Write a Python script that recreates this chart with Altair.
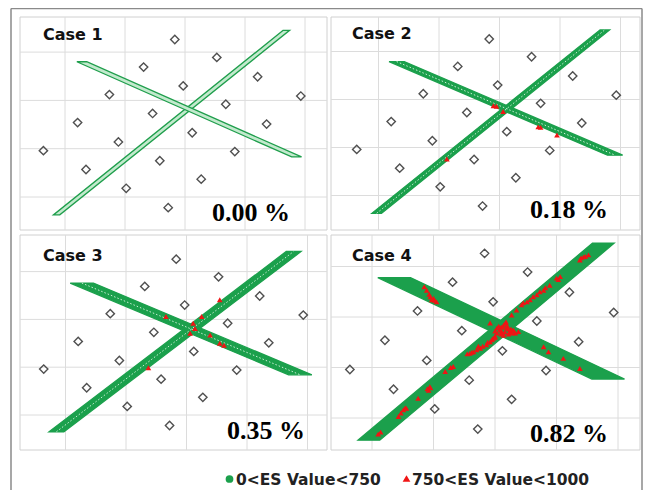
import altair as alt
import pandas as pd
import numpy as np

# ---------------- data (grid units of each panel) ----------------
case_names = ["Case 1", "Case 2", "Case 3", "Case 4"]
pct_labels = ["0.00 %", "0.18 %", "0.35 %", "0.82 %"]

# sensor positions (hollow diamonds), same in every case
diamond_gx = [1.83, 2.53, 1.31, 3.21, 1.97, 0.74, 3.93, 2.68, 1.46, 0.21,
              3.36, 2.12, 0.89, -0.36, 2.83, 1.58, 0.35, 2.27, 1.02, 1.72]
diamond_gy = [3.26, 2.89, 2.69, 2.49, 2.30, 2.12, 2.09, 1.92, 1.73, 1.54,
              1.51, 1.33, 1.14, 0.96, 0.94, 0.75, 0.57, 0.37, 0.18, -0.22]

# green bands (0<ES Value<750): two crossing paths per case
lineA_x0 = [-0.14, -0.03, -0.15, -0.05]
lineA_y0 = [-0.37, -0.37, -0.35, -0.44]
lineA_x1 = [3.69, 3.74, 3.77, 3.76]
lineA_y1 = [3.45, 3.45, 3.42, 3.46]
lineB_x0 = [0.28, 0.30, 0.27, 0.36]
lineB_y0 = [2.80, 2.79, 2.76, 2.78]
lineB_x1 = [3.86, 3.91, 3.88, 3.84]
lineB_y1 = [0.83, 0.84, 0.84, 0.77]

# red triangles (750<ES Value<1000)
red_gx = [
    [],
    [1.90, 1.95, 2.06, 2.64, 2.68, 2.95, 1.13],
    [2.55, 1.66, 2.25, 2.11, 2.14, 2.06, 2.39, 2.55, 2.62, 1.37],
    [3.44, 3.52, 3.38, 3.06, 3.00, 2.89, 2.79, 2.73, 2.68, 2.57, 2.52, 2.43, 2.35, 2.27,
     2.14, 2.19, 2.08, 2.24, 2.03, 2.33, 2.14, 1.97, 1.92, 1.86, 1.76, 1.65, 1.59, 2.03, 2.11, 2.38,
     2.17, 2.22, 2.10, 2.27, 2.00,
     2.12, 2.20, 2.26, 2.16, 2.30, 2.06, 2.22, 2.10, 2.28, 2.18, 2.00,
     1.80, 1.70, 1.62, 1.88, 1.95, 2.00, 1.55, 1.73,
     0.89, 1.00, 1.05, 0.97, 0.93, 0.95, 1.02, 0.85,
     2.79, 2.87, 3.11, 3.38, 1.92,
     3.47, 3.40, 2.62, 2.82, 2.46, 3.03,
     1.32, 1.19, 0.94, 0.92, 0.75, 0.56, 0.51, 0.43, 0.10,
     0.95, 0.90, 0.54, 0.47, 1.28, 0.14],
]
red_gy = [
    [],
    [1.87, 1.86, 1.75, 1.43, 1.42, 1.26, 0.76],
    [2.41, 2.06, 2.06, 1.92, 1.81, 1.71, 1.67, 1.50, 1.46, 0.99],
    [3.19, 3.23, 3.13, 2.80, 2.77, 2.63, 2.53, 2.50, 2.44, 2.34, 2.30, 2.24, 2.14, 2.04,
     1.84, 1.78, 1.74, 1.71, 1.68, 1.68, 1.64, 1.58, 1.51, 1.45, 1.38, 1.31, 1.28, 1.78, 1.71, 1.71,
     1.88, 1.76, 1.80, 1.74, 1.62,
     1.80, 1.82, 1.76, 1.70, 1.74, 1.82, 1.66, 1.66, 1.68, 1.90, 1.72,
     1.42, 1.35, 1.30, 1.50, 1.55, 1.60, 1.27, 1.42,
     2.53, 2.37, 2.30, 2.34, 2.45, 2.40, 2.33, 2.60,
     1.41, 1.31, 1.18, 0.98, 1.88,
     3.20, 3.17, 2.40, 2.58, 2.28, 2.74,
     1.02, 0.92, 0.62, 0.55, 0.39, 0.19, 0.16, 0.03, -0.32,
     0.60, 0.58, 0.20, 0.10, 1.00, -0.28],
]

grid_x_ticks = [0, 1, 2, 3, 4]
grid_y_ticks = [0, 1, 2, 3]

legend_labels = ["0<ES Value<750", "750<ES Value<1000"]

# ---------------- layout (page pixels) ----------------
panel_left = [20, 331, 20, 331]
panel_right = [327, 640, 327, 640]
panel_top = [17, 17, 235, 235]
panel_bottom = [230, 230, 450, 450]
grid_x0 = [65, 378.5, 65.5, 372]
grid_dx = [60, 60.5, 60.5, 61.5]
grid_y0 = [197, 195.5, 415, 418]
grid_dy = [48.3, 48, 47.8, 50.5]
band_px = [4.0, 6, 9, 14]
case_lab_x = [43, 352, 43, 352]
case_lab_y = [40, 38.5, 261, 261]
pct_right = [290, 608, 305, 608]
pct_base = [221, 218, 439, 442]

GREEN = "#1ba04c"
RED = "#f01414"


def px(i, gx):
    return grid_x0[i] + np.asarray(gx, dtype=float) * grid_dx[i]


def py(i, gy):
    return grid_y0[i] - np.asarray(gy, dtype=float) * grid_dy[i]


xs = alt.Scale(domain=[8, 643], nice=False, zero=False)
ys = alt.Scale(domain=[8, 490], nice=False, zero=False, reverse=True)


def X(f):
    return alt.X(f"{f}:Q", scale=xs, axis=None, stack=False)


def Y(f):
    return alt.Y(f"{f}:Q", scale=ys, axis=None, stack=False)


# panels
panels_df = pd.DataFrame({"x": panel_left, "x2": panel_right, "y": panel_top, "y2": panel_bottom})

grid_rows = []
for i in range(4):
    for g in grid_x_ticks:
        xv = float(px(i, g))
        grid_rows.append({"x": xv, "x2": xv, "y": panel_top[i], "y2": panel_bottom[i]})
    for g in grid_y_ticks:
        yv = float(py(i, g))
        grid_rows.append({"x": panel_left[i], "x2": panel_right[i], "y": yv, "y2": yv})
grid_df = pd.DataFrame(grid_rows)

dia_rows = []
for i in range(4):
    for a, b in zip(px(i, diamond_gx), py(i, diamond_gy)):
        dia_rows.append({"x": float(a), "y": float(b)})
dia_df = pd.DataFrame(dia_rows)

band_rows, center_rows = [], []
for i in range(4):
    for name, (ax0, ay0, ax1, ay1) in {
        "A": (lineA_x0[i], lineA_y0[i], lineA_x1[i], lineA_y1[i]),
        "B": (lineB_x0[i], lineB_y0[i], lineB_x1[i], lineB_y1[i]),
    }.items():
        X0, Y0 = float(px(i, ax0)), float(py(i, ay0))
        X1, Y1 = float(px(i, ax1)), float(py(i, ay1))
        length = np.hypot(X1 - X0, Y1 - Y0)
        w = band_px[i] * length / abs(Y1 - Y0)
        bid = f"{i}{name}"
        fill = "#c2eacd" if i == 0 else GREEN
        stroke = "#1f9e4c" if i == 0 else GREEN
        for Xc, Yc in [(X0, Y0), (X1, Y1)]:
            band_rows.append({"band": bid, "y": Yc, "xl": Xc - w / 2, "xr": Xc + w / 2,
                              "fill": fill, "stroke": stroke})
            if i in (1, 2):
                center_rows.append({"band": bid, "x": Xc, "y": Yc})
band_df = pd.DataFrame(band_rows)
center_df = pd.DataFrame(center_rows)

red_rows = []
for i in range(4):
    for a, b in zip(px(i, red_gx[i]), py(i, red_gy[i])):
        red_rows.append({"x": float(a), "y": float(b)})
red_df = pd.DataFrame(red_rows)

case_df = pd.DataFrame({"x": case_lab_x, "y": case_lab_y, "t": case_names})
pct_df = pd.DataFrame({"x": pct_right, "y": pct_base, "t": pct_labels})

frame_df = pd.DataFrame({"x": [11, 11, 642], "x2": [11, 642, 642],
                         "y": [8.6, 8.6, 8.6], "y2": [490, 8.6, 490]})

# ---------------- layers ----------------
panel_bg = alt.Chart(panels_df).mark_rect(fill="white", stroke="#d0d0d0", strokeWidth=1).encode(
    x=X("x"), x2="x2", y=Y("y"), y2="y2")

grid = alt.Chart(grid_df).mark_rule(color="#dcdcdc", strokeWidth=1).encode(
    x=X("x"), x2="x2", y=Y("y"), y2="y2")

diamonds = alt.Chart(dia_df).mark_point(shape="diamond", filled=False, color="#505050",
                                        strokeWidth=1.4, size=70, opacity=1).encode(x=X("x"), y=Y("y"))

bands = alt.Chart(band_df).mark_area(orient="horizontal", strokeWidth=1.3, opacity=1).encode(
    y=Y("y"), x=X("xl"), x2="xr", detail="band:N",
    fill=alt.Fill("fill:N", scale=None), stroke=alt.Stroke("stroke:N", scale=None))

centers = alt.Chart(center_df).mark_line(color="#c9eed4", strokeWidth=1, strokeDash=[1.5, 2]).encode(
    x=X("x"), y=Y("y"), detail="band:N")

reds = alt.Chart(red_df).mark_point(shape="triangle-up", filled=True, color=RED, size=32, opacity=1).encode(
    x=X("x"), y=Y("y"))

case_text = alt.Chart(case_df).mark_text(align="left", baseline="alphabetic", font="DejaVu Sans",
                                         fontSize=16, fontWeight="bold", color="#111111").encode(
    x=X("x"), y=Y("y"), text="t:N")

pct_text = alt.Chart(pct_df).mark_text(align="right", baseline="alphabetic", font="Liberation Serif",
                                       fontSize=26, fontWeight="bold", color="#000000").encode(
    x=X("x"), y=Y("y"), text="t:N")

leg_sym_df = pd.DataFrame({"x": [229.5], "y": [479.0], "lab": [legend_labels[0]]})
leg_tri_df = pd.DataFrame({"x": [406.5], "y": [478.5], "lab": [legend_labels[1]]})
leg_text_df = pd.DataFrame({"x": [236.0, 412.0], "y": [484.5, 484.5], "t": legend_labels})

leg_circle = alt.Chart(leg_sym_df).mark_point(shape="circle", filled=True, color=GREEN, size=60, opacity=1).encode(
    x=X("x"), y=Y("y"))
leg_tri = alt.Chart(leg_tri_df).mark_point(shape="triangle-up", filled=True, color=RED, size=60, opacity=1).encode(
    x=X("x"), y=Y("y"))
leg_text = alt.Chart(leg_text_df).mark_text(align="left", baseline="alphabetic", font="DejaVu Sans",
                                            fontSize=15.5, fontWeight="bold", color="#222222").encode(
    x=X("x"), y=Y("y"), text="t:N")

frame = alt.Chart(frame_df).mark_rule(color="#8a8a8a", strokeWidth=1.5).encode(
    x=X("x"), x2="x2", y=Y("y"), y2="y2")

chart = alt.layer(
    panel_bg, grid, diamonds, bands, centers, reds, case_text, pct_text,
    leg_circle, leg_tri, leg_text, frame
).properties(
    width=635, height=482, padding=0, autosize=alt.AutoSizeParams(type="none")
).configure_view(strokeWidth=0)

chart.save("out.html", embed_options={"renderer": "svg", "actions": False})
